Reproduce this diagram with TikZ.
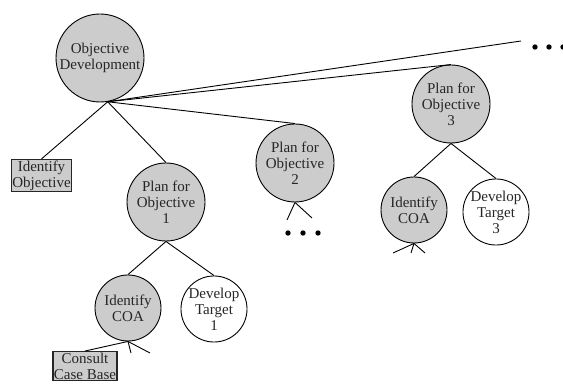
\documentclass[tikz,border=0pt]{standalone}
\usepackage{fontspec}
\setmainfont{Liberation Serif}
\begin{document}
\begin{tikzpicture}[x=1pt,y=-1pt,line width=0.9pt,
   every node/.style={font=\fontsize{15}{16}\selectfont,align=center,text=black!85},
   goal/.style={circle,draw,fill=gray!40,inner sep=0pt,minimum size=78},
   small/.style={minimum size=66},
   leaf/.style={circle,draw,fill=white,inner sep=0pt,minimum size=66},
   taskbox/.style={rectangle,draw=black!85,line width=1.4pt,fill=gray!40,inner sep=1pt}]
   \useasboundingbox (0,0) rectangle (563,387);
   % nodes
   \node[goal,minimum size=88] (od) at (100,58) {Objective\\Development};
   \node[taskbox] (idobj) at (41.5,175.5) {Identify\\Objective};
   \node[goal] (plan1) at (166,202) {Plan for\\Objective\\1};
   \node[goal] (plan2) at (295,163) {Plan for\\Objective\\2};
   \node[goal] (plan3) at (451,104) {Plan for\\Objective\\3};
   \node[goal,small] (coa3) at (414,210) {Identify\\COA};
   \node[leaf] (dev3) at (496,212) {Develop\\Target\\3};
   \node[goal,small] (coa1) at (128,308) {Identify\\COA};
   \node[leaf] (dev1) at (214,309) {Develop\\Target\\1};
   \node[taskbox] (consult) at (85,366) {Consult\\Case Base};
   % free ends
   \coordinate (more) at (521,41);
   \foreach \n/\x/\y in {a/287/220, b/312/218}
     \coordinate (p2\n) at (\x,\y);
   \foreach \n/\x/\y in {a/393/253, b/411/253, c/425/253}
     \coordinate (c3\n) at (\x,\y);
   \foreach \n/\x/\y in {a/131/353, b/150/353}
     \coordinate (c1\n) at (\x,\y);
   % connectors
   \foreach \t in {idobj,plan1,plan2,plan3}
     \draw (od.-80) -- (\t.north);
   \draw (od.-80) -- (more);
   \draw (plan1.south) -- (coa1.north);
   \draw (plan1.south) -- (dev1.north);
   \draw (plan3.south) -- (coa3.north);
   \draw (plan3.south) -- (dev3.north);
   \draw (coa1.south) -- (consult.north);
   \foreach \s in {p2a,p2b} \draw (plan2.south) -- (\s);
   \foreach \s in {c3a,c3b,c3c} \draw (coa3.south) -- (\s);
   \foreach \s in {c1a,c1b} \draw (coa1.south) -- (\s);
   % dots
   \foreach \x in {535,549,563} \fill (\x,47) circle (2.7pt);
   \foreach \x in {288,303,318} \fill (\x,233) circle (2.7pt);
\end{tikzpicture}
\end{document}
